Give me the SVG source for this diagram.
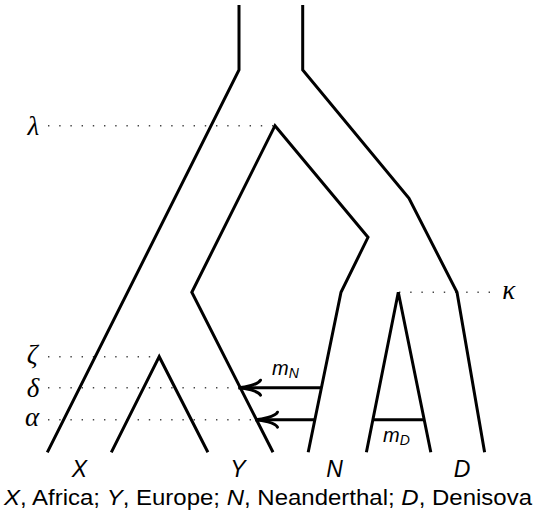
<svg xmlns="http://www.w3.org/2000/svg" width="536" height="514" viewBox="0 0 536 514">
<style>
.pop{fill:none;stroke:#000;stroke-width:3;stroke-linejoin:miter;stroke-linecap:butt}
.dot{fill:none;stroke:#444;stroke-width:1.4;stroke-dasharray:1.4 9.8}
.mig{fill:none;stroke:#000;stroke-width:3}
.greek{font-family:"Liberation Serif","DejaVu Serif",serif;font-style:italic;font-size:27px;fill:#000;text-anchor:middle}
.lab{font-family:"Liberation Sans","DejaVu Sans",sans-serif;font-style:italic;font-size:23px;fill:#000;text-anchor:middle}
.cap{font-family:"Liberation Sans","DejaVu Sans",sans-serif;font-size:22px;fill:#000}
.it{font-style:italic}
.m{font-family:"Liberation Sans","DejaVu Sans",sans-serif;font-style:italic;font-size:20px;fill:#000}
</style>
<defs>
<marker id="to" markerUnits="userSpaceOnUse" viewBox="-30 -15 40 30" refX="0" refY="0" markerWidth="40" markerHeight="30" orient="auto" overflow="visible">
<path d="M-22,-7.5 C-20,-3 -6,-0.4 0,0 C-6,0.4 -20,3 -22,7.5" fill="none" stroke="#000" stroke-width="3" stroke-linecap="round"/>
</marker>
</defs>
<rect width="536" height="514" fill="#fff"/>
<g id="time-guides">
<path class="dot" d="M48,125.7 H275"/>
<path class="dot" d="M48,356.7 H159"/>
<path class="dot" d="M48,387.7 H238"/>
<path class="dot" d="M48,419.7 H255"/>
<path class="dot" d="M399,292.3 H494"/>
</g>
<g id="ancestral-left-wall"><path class="pop" d="M239,5 L239,70 L47.3,452.3"/></g>
<g id="ancestral-right-wall"><path class="pop" d="M302.7,5 L302.7,70 L409,198.3 L457,292.3 L484.6,452.3"/></g>
<g id="split-lambda"><path class="pop" d="M273,452.3 L191.8,292.3 L275,125.7 L368,237.3 L341,292.3 L308.2,452.3"/></g>
<g id="split-zeta"><path class="pop" d="M111.3,452.3 L159.2,356.7 L207.9,452.3"/></g>
<g id="split-kappa"><path class="pop" d="M366.4,452.3 L398.3,292.3 L430.8,452.3"/></g>
<g id="connectors">
<path class="mig" d="M321.4,387.7 H238.5" marker-end="url(#to)"/>
<path class="mig" d="M314.8,419.7 H255.5" marker-end="url(#to)"/>
<path class="mig" d="M372.9,419.7 H424.2"/>
</g>
<g id="greek-labels">
<text class="greek" x="33.4" y="135">λ</text>
<text class="greek" x="32.2" y="363">ζ</text>
<text class="greek" x="33" y="397">δ</text>
<text class="greek" x="32.2" y="426">α</text>
<text class="greek" x="508.8" y="299">κ</text>
</g>
<g id="migration-labels">
<text class="m" x="272" y="375">m<tspan font-size="14" dy="3">N</tspan></text>
<text class="m" x="383" y="441.5">m<tspan font-size="14" dy="3">D</tspan></text>
</g>
<g id="leaf-labels">
<text class="lab" x="79.5" y="477">X</text>
<text class="lab" x="238" y="477">Y</text>
<text class="lab" x="334.5" y="477">N</text>
<text class="lab" x="462" y="477">D</text>
</g>
<text class="cap" x="4" y="505" textLength="528" lengthAdjust="spacingAndGlyphs"><tspan class="it">X</tspan>, Africa; <tspan class="it">Y</tspan>, Europe; <tspan class="it">N</tspan>, Neanderthal; <tspan class="it">D</tspan>, Denisova</text>
</svg>
